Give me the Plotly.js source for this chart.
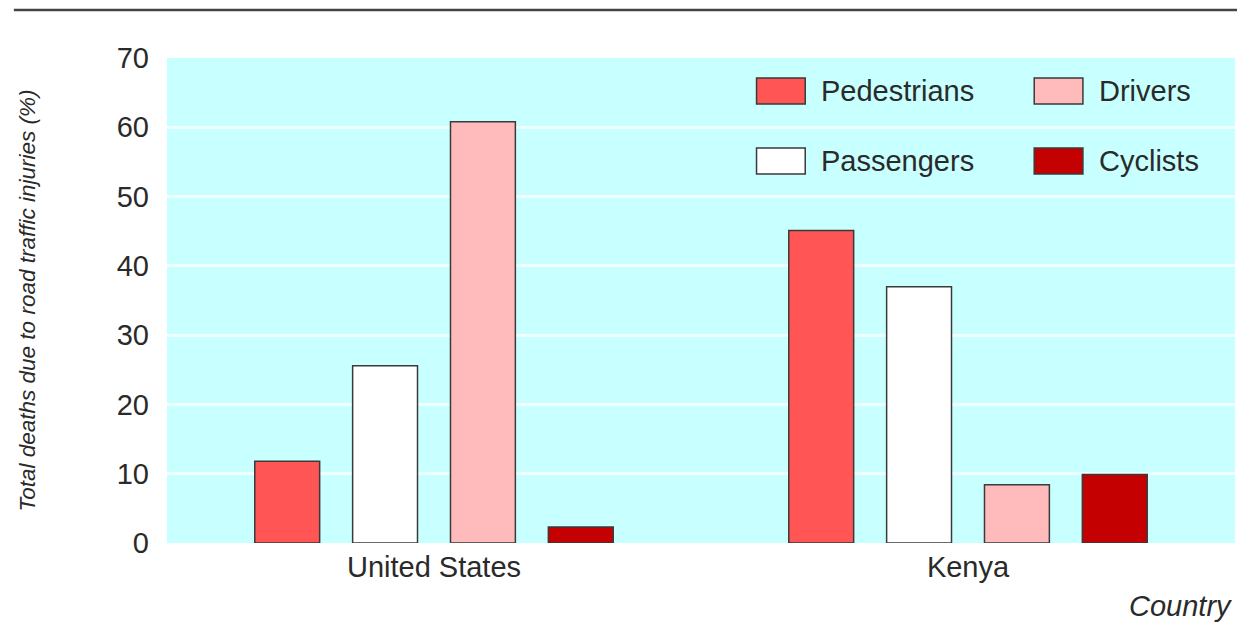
<!DOCTYPE html>
<html>
<head>
<meta charset="utf-8">
<script src="https://cdn.plot.ly/plotly-3.0.1.min.js"></script>
<style>
  html, body { margin: 0; padding: 0; background: #ffffff; }
  #chart { width: 1237px; height: 623px; }
</style>
</head>
<body>
<div id="chart"></div>
<script>
// Share of road traffic deaths by road-user type (%)
const countries = ['United States', 'Kenya'];
const seriesNames = ['Pedestrians', 'Passengers', 'Drivers', 'Cyclists'];
const pedestrians = [11.8, 45.1];
const passengers = [25.6, 37.0];
const drivers = [60.8, 8.4];
const cyclists = [2.3, 9.9];
const seriesValues = [pedestrians, passengers, drivers, cyclists];
const seriesColors = ['#ff5555', '#ffffff', '#ffbbbb', '#c40000'];
const yTicks = [0, 10, 20, 30, 40, 50, 60, 70];

const FONT = 'Liberation Sans, Arial, Helvetica, sans-serif';
const TEXT = '#2a2a2a';
const OUTLINE = '#3a3a3a';

const traces = seriesNames.map((name, i) => ({
  type: 'bar',
  name: name,
  x: countries,
  y: seriesValues[i],
  marker: { color: seriesColors[i], line: { color: OUTLINE, width: 1.5 } },
  showlegend: false,
  hoverinfo: 'x+y+name'
}));

// Two-column key in the upper right of the plot: [series index, column, row]
const keyLayout = [[0, 0, 0], [2, 1, 0], [1, 0, 1], [3, 1, 1]];
const keyColX = [0.552, 0.812];
const keyRowY = [0.9588, 0.8144];
const boxW = 0.0456, boxH = 0.0536, textGap = 0.0133;

const shapes = [
  // rule across the top of the figure
  { type: 'line', xref: 'paper', yref: 'paper', x0: -0.1434, x1: 1.004, y0: 1.099, y1: 1.099,
    line: { color: '#444444', width: 2.5 } }
];
const annotations = [
  { text: 'Country', xref: 'paper', yref: 'paper', x: 0.9995, y: -0.130,
    xanchor: 'right', yanchor: 'middle', showarrow: false,
    font: { family: FONT, size: 29, color: TEXT, style: 'italic' } }
];
keyLayout.forEach(([s, c, r]) => {
  const x0 = keyColX[c], y0 = keyRowY[r];
  shapes.push({ type: 'rect', xref: 'paper', yref: 'paper',
    x0: x0, x1: x0 + boxW, y0: y0 - boxH, y1: y0,
    fillcolor: seriesColors[s], line: { color: OUTLINE, width: 1.5 } });
  annotations.push({ text: seriesNames[s], xref: 'paper', yref: 'paper',
    x: x0 + boxW + textGap, y: y0 - boxH / 2, xanchor: 'left', yanchor: 'middle',
    showarrow: false, font: { family: FONT, size: 29, color: TEXT } });
});

const layout = {
  width: 1237,
  height: 623,
  margin: { l: 167, r: 2, t: 58, b: 80 },
  paper_bgcolor: '#ffffff',
  plot_bgcolor: '#c8ffff',
  barmode: 'group',
  bargap: 0.267,
  bargroupgap: 0.337,
  font: { family: FONT, color: TEXT },
  xaxis: {
    type: 'category',
    showgrid: false,
    zeroline: false,
    showline: false,
    ticks: '',
    ticklabelstandoff: 4,
    tickfont: { family: FONT, size: 29, color: TEXT },
    fixedrange: true
  },
  yaxis: {
    range: [0, 70],
    tickvals: yTicks,
    ticktext: yTicks.map(String),
    showgrid: true,
    gridcolor: '#f0ffff',
    gridwidth: 3,
    zeroline: false,
    showline: false,
    ticks: '',
    ticklabelstandoff: 17,
    tickfont: { family: FONT, size: 29, color: TEXT },
    title: {
      text: 'Total deaths due to road traffic injuries (%)',
      font: { family: FONT, size: 22.5, color: TEXT, style: 'italic' },
      standoff: 74
    },
    fixedrange: true
  },
  shapes: shapes,
  annotations: annotations
};

Plotly.newPlot('chart', traces, layout, { displayModeBar: false, staticPlot: true });
</script>
</body>
</html>
